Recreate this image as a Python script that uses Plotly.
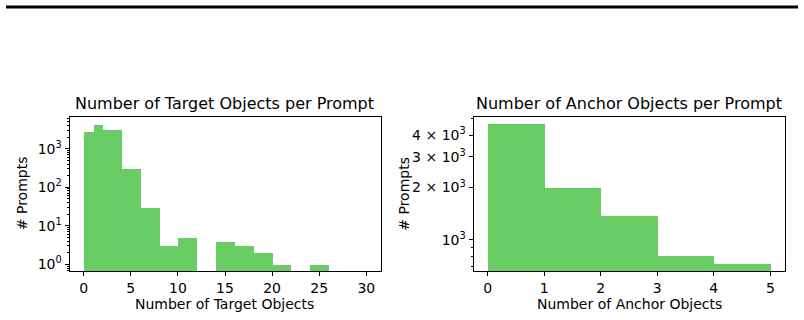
import plotly.graph_objects as go
import numpy as np

# ---- data ----
target_bin_edges = [0, 1, 2, 4, 6, 8, 10, 12, 14, 16, 18, 20, 22, 24, 26, 28, 30]
target_counts = [2800, 4200, 3150, 310, 30, 3, 5, 0, 4, 3, 2, 1, 0, 1, 0, 0]

anchor_bin_edges = [0, 1, 2, 3, 4, 5]
anchor_counts = [4650, 2000, 1390, 810, 730]

left_title = "Number of Target Objects per Prompt"
right_title = "Number of Anchor Objects per Prompt"
left_xlabel = "Number of Target Objects"
right_xlabel = "Number of Anchor Objects"
ylabel = "# Prompts"

left_xticks = [0, 5, 10, 15, 20, 25, 30]
right_xticks = [0, 1, 2, 3, 4, 5]
left_yticks = [1, 10, 100, 1000]
left_yticktext = ["10<sup>0</sup>", "10<sup>1</sup>", "10<sup>2</sup>", "10<sup>3</sup>"]
right_yticks = [1000, 2000, 3000, 4000]
right_yticktext = ["10<sup>3</sup>", "2 × 10<sup>3</sup>", "3 × 10<sup>3</sup>", "4 × 10<sup>3</sup>"]

COLOR = "#6ACC64"
FONT = "DejaVu Sans"
W, H = 804, 320
TITLE_SIZE = 16
LABEL_SIZE = 14


def bars(edges, counts, xa, ya):
    e = np.array(edges, dtype=float)
    centers = (e[:-1] + e[1:]) / 2
    widths = e[1:] - e[:-1]
    y = [c if c > 0 else None for c in counts]
    return go.Bar(x=centers, y=y, width=widths, marker=dict(color=COLOR, line=dict(width=0)),
                  xaxis=xa, yaxis=ya, showlegend=False, hoverinfo="x+y")


def minor_log(lo, hi):
    vals = []
    for d in range(lo, hi + 1):
        for m in range(2, 10):
            vals.append(m * 10 ** d)
    return vals


fig = go.Figure()
fig.add_trace(bars(target_bin_edges, target_counts, "x", "y"))
fig.add_trace(bars(anchor_bin_edges, anchor_counts, "x2", "y2"))

px2x = lambda p: p / W
px2y = lambda p: 1 - p / H

ax_common = dict(showline=True, linecolor="black", linewidth=1, mirror=True, ticks="outside",
                 ticklen=4, tickwidth=1, tickcolor="black", showgrid=False, zeroline=False,
                 tickfont=dict(family=FONT, size=LABEL_SIZE, color="black"))

L0, L1 = 69.5, 380.5
R0, R1 = 473.5, 784.5
T, B = 116.5, 271

fig.update_layout(
    width=W, height=H, margin=dict(l=0, r=0, t=0, b=0),
    paper_bgcolor="white", plot_bgcolor="white", bargap=0,
    font=dict(family=FONT, color="black", size=LABEL_SIZE),
    xaxis=dict(domain=[px2x(L0), px2x(L1)], anchor="y", range=[-1.5, 31.5],
               tickmode="array", tickvals=left_xticks, **ax_common),
    yaxis=dict(domain=[px2y(B), px2y(T)], anchor="x", type="log",
               range=[np.log10(0.67), np.log10(6840)],
               tickmode="array", tickvals=left_yticks, ticktext=left_yticktext,
               minor=dict(tickmode="array", tickvals=minor_log(-1, 3), ticks="outside",
                          ticklen=2, tickcolor="black", showgrid=False),
               **ax_common),
    xaxis2=dict(domain=[px2x(R0), px2x(R1)], anchor="y2", range=[-0.25, 5.25],
                tickmode="array", tickvals=right_xticks, **ax_common),
    yaxis2=dict(domain=[px2y(B), px2y(T)], anchor="x2", type="log",
                range=[np.log10(663), np.log10(5122)],
                tickmode="array", tickvals=right_yticks, ticktext=right_yticktext,
                minor=dict(tickmode="array", tickvals=[600, 700, 800, 900, 5000], ticks="outside",
                           ticklen=2, tickcolor="black", showgrid=False),
                **ax_common),
)

ann = []
for (x0, x1, t, xl, ylx) in [(L0, L1, left_title, left_xlabel, 21.5), (R0, R1, right_title, right_xlabel, 404)]:
    ann.append(dict(text=t, x=px2x((x0 + x1) / 2), y=px2y(103), xref="paper", yref="paper",
                    xanchor="center", yanchor="middle", showarrow=False,
                    font=dict(family=FONT, size=TITLE_SIZE, color="black")))
    ann.append(dict(text=xl, x=px2x((x0 + x1) / 2), y=px2y(304), xref="paper", yref="paper",
                    xanchor="center", yanchor="middle", showarrow=False,
                    font=dict(family=FONT, size=LABEL_SIZE, color="black")))
    ann.append(dict(text=ylabel, x=px2x(ylx), y=px2y((T + B) / 2), xref="paper", yref="paper",
                    xanchor="center", yanchor="middle", showarrow=False, textangle=-90,
                    font=dict(family=FONT, size=LABEL_SIZE, color="black")))
fig.update_layout(annotations=ann)

fig.add_shape(type="line", xref="paper", yref="paper", x0=px2x(6), x1=px2x(798),
              y0=px2y(7), y1=px2y(7), line=dict(color="black", width=3))

fig.write_html("out.html")
